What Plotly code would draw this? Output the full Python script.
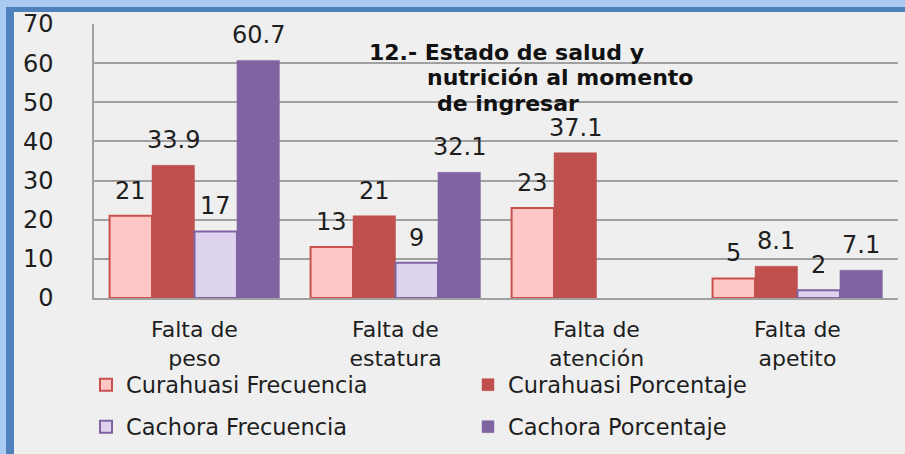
import plotly.graph_objects as go

categories = ["Falta de<br>peso", "Falta de<br>estatura", "Falta de<br>atención", "Falta de<br>apetito"]
curahuasi_frecuencia = [21, 13, 23, 5]
curahuasi_porcentaje = [33.9, 21, 37.1, 8.1]
cachora_frecuencia = [17, 9, None, 2]
cachora_porcentaje = [60.7, 32.1, None, 7.1]
series_names = ["Curahuasi Frecuencia", "Curahuasi Porcentaje", "Cachora Frecuencia", "Cachora Porcentaje"]
y_ticks = [0, 10, 20, 30, 40, 50, 60, 70]
title_lines = ["12.- Estado de salud y", "nutrición al momento", "de ingresar"]

W, H = 905, 454
ML, MR, MT, MB = 94, 7, 24, 156
PW, PH = W - ML - MR, H - MT - MB
BARGAP = 0.155

series = [curahuasi_frecuencia, curahuasi_porcentaje, cachora_frecuencia, cachora_porcentaje]
fills = ["#FFC6C6", "#C0504D", "#DDD3EE", "#8064A2"]
lines = ["#C9504D", "#C0504D", "#8064A2", "#8064A2"]
line_w = [2, 0.5, 2, 0.5]
legends = ["legend", "legend", "legend2", "legend2"]

fig = go.Figure()
for name, vals, fc, lc, lw, lg in zip(series_names, series, fills, lines, line_w, legends):
    fig.add_trace(go.Bar(
        x=categories, y=vals, name=name,
        marker=dict(color=fc, line=dict(color=lc, width=lw)),
        legend=lg,
    ))

# data labels
bar_px = PW / len(categories) * (1 - BARGAP) / len(series)
for i, vals in enumerate(series):
    for c, v in zip(categories, vals):
        if v is None:
            continue
        fig.add_annotation(
            x=c, y=v, xref="x", yref="y", text=str(v), showarrow=False,
            xshift=(i - 1.5) * bar_px, yanchor="bottom", yshift=9,
            font=dict(family="DejaVu Sans", size=24, color="#1E1E1E"),
        )

# title lines
title_cx = [506, 560, 508]
title_cy = [52, 77, 103]
for t, cx, cy in zip(title_lines, title_cx, title_cy):
    fig.add_annotation(
        x=(cx - ML) / PW, y=(MT + PH - cy) / PH, xref="paper", yref="paper",
        text="<b>" + t + "</b>", showarrow=False, xanchor="center", yanchor="middle",
        font=dict(family="DejaVu Sans", size=22, color="#111111"),
    )

def px_x(p):
    return (p - ML) / PW

def px_y(p):
    return (MT + PH - p) / PH

frame = [
    (0, 0, W, 7, "#A9CBF2"),
    (0, 0, 6, H, "#A9CBF2"),
    (6, 7, W, 12, "#4F81BD"),
    (6, 7, 14, H, "#4F81BD"),
]
for x0, y0, x1, y1, col in frame:
    fig.add_shape(type="rect", xref="paper", yref="paper",
                  x0=px_x(x0), x1=px_x(x1), y0=px_y(y1), y1=px_y(y0),
                  fillcolor=col, line=dict(width=0), layer="above")

legend_font = dict(family="DejaVu Sans", size=22.5, color="#1E1E1E")
fig.update_layout(
    width=W, height=H,
    margin=dict(l=ML, r=MR, t=MT, b=MB, pad=0, autoexpand=False),
    paper_bgcolor="#EFEFEF", plot_bgcolor="#EFEFEF",
    barmode="group", bargap=BARGAP, bargroupgap=0,
    font=dict(family="DejaVu Sans", color="#1E1E1E"),
    legend=dict(orientation="h", x=px_x(86), y=px_y(385), xanchor="left", yanchor="middle",
                entrywidth=337, entrywidthmode="pixels", bgcolor="rgba(0,0,0,0)",
                font=legend_font),
    legend2=dict(orientation="h", x=px_x(86), y=px_y(427), xanchor="left", yanchor="middle",
                 entrywidth=337, entrywidthmode="pixels", bgcolor="rgba(0,0,0,0)",
                 font=legend_font),
    showlegend=True,
)
fig.update_xaxes(
    showline=True, linecolor="#A0A0A0", linewidth=1.5, ticks="", automargin=False,
    tickfont=dict(family="DejaVu Sans", size=22, color="#1E1E1E"),
    ticklabelstandoff=11,
)
fig.update_yaxes(
    range=[0, 70], tickvals=y_ticks, showgrid=True, gridcolor="#A0A0A0", gridwidth=1.5,
    showline=True, linecolor="#A0A0A0", linewidth=1.5, ticks="", zeroline=False, automargin=False,
    tickfont=dict(family="DejaVu Sans", size=24, color="#1E1E1E"),
    ticklabelstandoff=34,
)

fig.write_html("out.html", config={"displayModeBar": False},
               post_script="document.body.style.margin='0px';")
